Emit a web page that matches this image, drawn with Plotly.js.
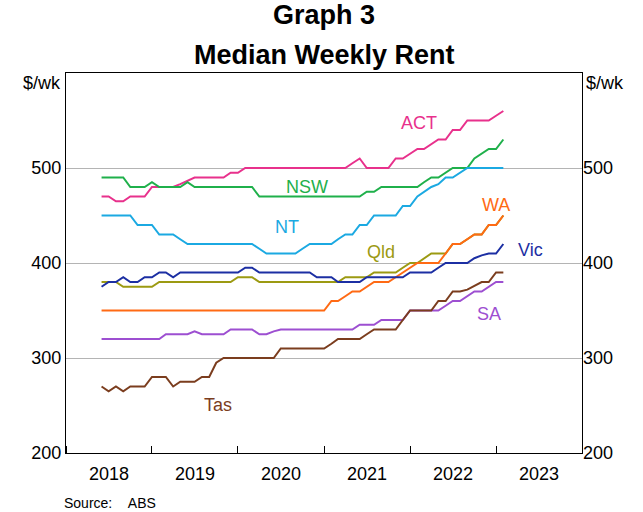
<!DOCTYPE html>
<html>
<head>
<meta charset="utf-8">
<script src="https://cdn.plot.ly/plotly-3.0.1.min.js"></script>
<style>html,body{margin:0;padding:0;background:#fff}#chart{width:643px;height:512px}</style>
</head>
<body>
<div id="chart"></div>
<script>
// Monthly observations, June 2018 – February 2023
const months = ['2018-06','2018-07','2018-08','2018-09','2018-10','2018-11','2018-12',
 '2019-01','2019-02','2019-03','2019-04','2019-05','2019-06','2019-07','2019-08','2019-09','2019-10','2019-11','2019-12',
 '2020-01','2020-02','2020-03','2020-04','2020-05','2020-06','2020-07','2020-08','2020-09','2020-10','2020-11','2020-12',
 '2021-01','2021-02','2021-03','2021-04','2021-05','2021-06','2021-07','2021-08','2021-09','2021-10','2021-11','2021-12',
 '2022-01','2022-02','2022-03','2022-04','2022-05','2022-06','2022-07','2022-08','2022-09','2022-10','2022-11','2022-12',
 '2023-01','2023-02'];

const act = [470,470,465,465,470,470,470,480,480,480,480,483,487,490,490,490,490,490,495,495,
 500,500,500,500,500,500,500,500,500,500,500,500,500,500,500,
 505,510,500,500,500,500,510,510,515,520,520,525,530,530,540,540,550,550,550,550,555,560];
const nsw = [490,490,490,490,480,480,480,485,480,480,480,480,485,480,480,480,480,480,480,480,480,480,
 470,470,470,470,470,470,470,470,470,470,470,470,470,470,470,
 475,475,480,480,480,480,480,480,485,490,490,495,500,500,500,510,515,520,520,530];
const nt = [450,450,450,450,450,440,440,440,430,430,430,425,420,420,420,420,420,420,420,420,420,420,
 415,410,410,410,410,410,415,420,420,420,420,425,430,430,440,440,450,450,450,450,460,460,
 470,475,480,483,490,490,495,500,500,500,500,500,500];
const qld = [380,380,380,375,375,375,375,375,380,380,380,380,380,380,380,380,380,380,380,385,385,385,
 380,380,380,380,380,380,380,380,380,380,380,380,385,385,385,385,390,390,390,390,395,400,400,405,410,410,
 410,420,420,425,430,430,440,440,450];
const wa = [350,350,350,350,350,350,350,350,350,350,350,350,350,350,350,350,350,350,350,350,350,350,
 350,350,350,350,350,350,350,350,350,350,360,360,365,370,370,375,380,380,380,385,390,395,
 400,400,400,400,410,420,420,425,430,430,440,440,450];
const vic = [375,380,380,385,380,380,385,385,390,390,385,390,390,390,390,390,390,390,390,390,395,395,
 390,390,390,390,390,390,390,390,385,385,385,380,380,380,380,385,385,385,385,385,385,
 390,390,390,390,395,400,400,400,400,405,408,410,410,420];
const sa = [320,320,320,320,320,320,320,320,320,325,325,325,325,328,325,325,325,325,330,330,330,330,
 325,325,328,330,330,330,330,330,330,330,330,330,330,330,335,335,335,340,340,340,340,
 350,350,350,350,350,355,360,360,365,370,370,375,380,380];
const tas = [270,265,270,265,270,270,270,280,280,280,270,275,275,275,280,280,295,
 300,300,300,300,300,300,300,300,310,310,310,310,310,310,310,315,320,320,320,320,325,
 330,330,330,330,340,350,350,350,350,360,360,370,370,372,376,380,380,390,390];

const seriesNames = ['ACT','NSW','NT','Qld','WA','Vic','SA','Tas'];
const seriesData = [act, nsw, nt, qld, wa, vic, sa, tas];
const colors = ['#e8318c','#1fb04b','#1ba9e2','#9c9a12','#ff6a14','#1c2fa3','#9d4fd1','#7b3d1e'];
// label positions (paper coords)
const labelPos = [[0.684,0.868],[0.467,0.701],[0.428,0.594],[0.6105,0.530],[0.833,0.653],[0.900,0.534],[0.819,0.3645],[0.295,0.127]];

const yTicks = [200,300,400,500];
const FONT = 'Liberation Sans, Arial, sans-serif';

// draw order: ACT, NSW, Qld (under WA), NT, WA, Vic, SA, Tas
const order = [0,1,3,2,4,5,6,7];
const traces = order.map(i => ({
  x: months, y: seriesData[i], type: 'scatter', mode: 'lines', name: seriesNames[i],
  line: {color: colors[i], width: 2}, hoverinfo: 'skip'
}));

const annotations = seriesNames.map((n,i) => ({
  text: n, xref: 'paper', yref: 'paper', x: labelPos[i][0], y: labelPos[i][1],
  xanchor: 'center', yanchor: 'middle', showarrow: false,
  font: {family: FONT, size: 18, color: colors[i]}
}));
annotations.push(
  {text:'<b>Graph 3</b>', xref:'paper', yref:'paper', x:0.5, y:1.1526, xanchor:'center', yanchor:'middle', showarrow:false, font:{family:FONT,size:27,color:'#000'}},
  {text:'<b>Median Weekly Rent</b>', xref:'paper', yref:'paper', x:0.5, y:1.047, xanchor:'center', yanchor:'middle', showarrow:false, font:{family:FONT,size:27,color:'#000'}},
  {text:'$/wk', xref:'paper', yref:'paper', x:-0.006, y:0.9737, xanchor:'right', yanchor:'middle', showarrow:false, font:{family:FONT,size:18,color:'#000'}},
  {text:'$/wk', xref:'paper', yref:'paper', x:1.004, y:0.9737, xanchor:'left', yanchor:'middle', showarrow:false, font:{family:FONT,size:18,color:'#000'}},
  {text:'Source:\u00a0\u00a0\u00a0\u00a0ABS', xref:'paper', yref:'paper', x:-0.007, y:-0.1316, xanchor:'left', yanchor:'middle', showarrow:false, font:{family:FONT,size:14,color:'#000'}}
);

const layout = {
  width: 643, height: 512,
  margin: {l: 66, r: 61, t: 73, b: 59, pad: 0},
  paper_bgcolor: '#fff', plot_bgcolor: '#fff',
  showlegend: false,
  font: {family: FONT, size: 18, color: '#000'},
  xaxis: {
    type: 'date', range: ['2018-01-01','2024-01-01'],
    tick0: '2018-01-01', dtick: 'M12', tickformat: '%Y', ticklabelmode: 'period',
    ticks: 'inside', ticklen: 7, tickwidth: 1, tickcolor: '#000', ticklabelstandoff: 4,
    showgrid: false, zeroline: false,
    showline: true, linecolor: '#000', linewidth: 1, mirror: true,
    tickfont: {family: FONT, size: 18, color: '#000'}
  },
  yaxis: {
    range: [200, 600], tickvals: yTicks, ticks: '',
    showgrid: true, gridcolor: '#b4b4b4', gridwidth: 1, zeroline: false,
    showline: true, linecolor: '#000', linewidth: 1, mirror: true,
    tickfont: {family: FONT, size: 18, color: '#000'}
  },
  yaxis2: {
    range: [200, 600], tickvals: yTicks, ticks: '', overlaying: 'y', side: 'right',
    matches: 'y', showgrid: false, zeroline: false, showline: false,
    tickfont: {family: FONT, size: 18, color: '#000'}
  },
  annotations: annotations
};

// invisible trace so the right-hand axis is drawn
traces.push({x: [months[0]], y: [null], yaxis: 'y2', type: 'scatter', mode: 'lines', showlegend: false, hoverinfo: 'skip'});

Plotly.newPlot('chart', traces, layout, {staticPlot: true});
</script>
</body>
</html>
